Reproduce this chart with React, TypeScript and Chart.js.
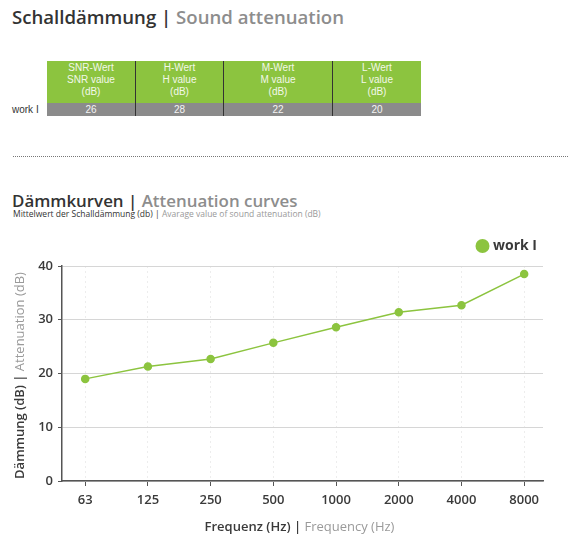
import React, { useEffect, useRef } from "react";
import { Chart, registerables } from "chart.js";

Chart.register(...registerables);

const frequencies = ["63", "125", "250", "500", "1000", "2000", "4000", "8000"];
const attenuation = [19.0, 21.3, 22.7, 25.7, 28.6, 31.4, 32.7, 38.5];
const seriesLabel = "work I";
const yTicks = [0, 10, 20, 30, 40];

const tableHeaders = [
  ["SNR-Wert", "SNR value", "(dB)"],
  ["H-Wert", "H value", "(dB)"],
  ["M-Wert", "M value", "(dB)"],
  ["L-Wert", "L value", "(dB)"],
];
const tableValues = [26, 28, 22, 20];
const tableColWidths = [88, 88, 109, 89];

const GREEN = "#8cc43f";
const DARK = "#3a3a3a";
const LIGHT = "#9a9a9a";
const FONT = "'Open Sans', 'DejaVu Sans', sans-serif";

const overlayPlugin = {
  id: "overlay",
  afterDraw(chart: any) {
    const { ctx, chartArea } = chart;
    ctx.save();
    // legend
    const ds = chart.data.datasets[0];
    ctx.fillStyle = ds.borderColor;
    ctx.beginPath();
    ctx.arc(482.5, 14, 7, 0, Math.PI * 2);
    ctx.fill();
    ctx.fillStyle = DARK;
    ctx.font = `bold 14px ${FONT}`;
    ctx.textBaseline = "middle";
    ctx.textAlign = "left";
    ctx.fillText(ds.label, 493, 14);

    // x title
    const p1 = "Frequenz (Hz) | ";
    const p2 = "Frequency (Hz)";
    ctx.font = `600 13px ${FONT}`;
    const w1 = ctx.measureText(p1).width;
    ctx.font = `13px ${FONT}`;
    const w2 = ctx.measureText(p2).width;
    const cx = (chartArea.left + chartArea.right) / 2 - 3;
    const x0 = cx - (w1 + w2) / 2;
    const ty = 295;
    ctx.font = `600 13px ${FONT}`;
    ctx.fillStyle = DARK;
    ctx.fillText(p1, x0, ty);
    ctx.font = `13px ${FONT}`;
    ctx.fillStyle = LIGHT;
    ctx.fillText(p2, x0 + w1, ty);

    // y title
    const q1 = "Dämmung (dB) | ";
    const q2 = "Attenuation (dB)";
    ctx.font = `600 13px ${FONT}`;
    const v1 = ctx.measureText(q1).width;
    ctx.font = `13px ${FONT}`;
    const v2 = ctx.measureText(q2).width;
    const cy = (chartArea.top + chartArea.bottom) / 2 + 2;
    ctx.translate(20, cy);
    ctx.rotate(-Math.PI / 2);
    const s0 = -(v1 + v2) / 2;
    ctx.font = `600 13px ${FONT}`;
    ctx.fillStyle = DARK;
    ctx.fillText(q1, s0, 0);
    ctx.font = `13px ${FONT}`;
    ctx.fillStyle = LIGHT;
    ctx.fillText(q2, s0 + v1, 0);
    ctx.restore();
  },
};

function AttenuationChart() {
  const ref = useRef<HTMLCanvasElement>(null);
  useEffect(() => {
    if (!ref.current) return;
    const chart = new Chart(ref.current, {
      type: "line",
      data: {
        datasets: [
          {
            label: seriesLabel,
            data: attenuation.map((v, i) => ({ x: i, y: v })),
            borderColor: GREEN,
            backgroundColor: GREEN,
            pointBackgroundColor: GREEN,
            pointBorderColor: GREEN,
            pointRadius: 3.5,
            borderWidth: 1.5,
            tension: 0,
          },
        ],
      },
      options: {
        animation: false,
        responsive: false,
        devicePixelRatio: 1,
        layout: { padding: { top: 34, right: 25, left: 0, bottom: 0 } },
        plugins: { legend: { display: false }, tooltip: { enabled: false } },
        scales: {
          x: {
            type: "linear",
            min: -0.37,
            max: 7.3,
            afterFit: (s: any) => {
              s.height = 72;
            },
            afterBuildTicks: (s: any) => {
              s.ticks = frequencies.map((_, i) => ({ value: i }));
            },
            ticks: {
              callback: (v: any) => frequencies[v as number] ?? "",
              color: DARK,
              font: { family: FONT, size: 13, weight: "600" },
              padding: 6,
              maxRotation: 0,
            },
            grid: {
              color: "#ededed",
              tickColor: "#555",
              tickLength: 5,
              drawOnChartArea: true,
            },
            border: { color: "#555", width: 1.5, dash: [2, 3] },
          },
          y: {
            min: 0,
            max: 40,
            afterFit: (s: any) => {
              s.width = 62;
            },
            afterBuildTicks: (s: any) => {
              s.ticks = yTicks.map((v) => ({ value: v }));
            },
            ticks: {
              color: DARK,
              font: { family: FONT, size: 13, weight: "600" },
              padding: 5,
            },
            grid: { color: "#d6d6d6", tickColor: "#555", tickLength: 4 },
            border: { color: "#555", width: 1.5 },
          },
        },
      },
      plugins: [overlayPlugin],
    });
    return () => chart.destroy();
  }, []);
  return (
    <canvas
      ref={ref}
      width={568}
      height={321}
      style={{ position: "absolute", left: 0, top: 232, width: 568, height: 321 }}
    />
  );
}

export default function App() {
  let left = 47;
  return (
    <div
      style={{
        position: "absolute",
        left: 0,
        top: 0,
        width: 568,
        height: 553,
        background: "#fff",
        fontFamily: FONT,
        overflow: "hidden",
      }}
    >
      <div
        style={{
          position: "absolute",
          left: 12,
          top: 4,
          fontSize: 18.6,
          fontWeight: 600,
          whiteSpace: "nowrap",
          lineHeight: "25px",
        }}
      >
        <span style={{ color: "#333" }}>Schalldämmung | </span>
        <span style={{ color: "#8d8d8d" }}>Sound attenuation</span>
      </div>

      <div
        style={{
          position: "absolute",
          left: 12,
          top: 103,
          height: 13,
          lineHeight: "13px",
          fontSize: 10,
          color: "#333",
          fontFamily: "'Liberation Sans', Arial, sans-serif",
        }}
      >
        work I
      </div>
      {tableHeaders.map((h, i) => {
        const w = tableColWidths[i];
        const x = left;
        left += w;
        return (
          <React.Fragment key={i}>
            <div
              style={{
                position: "absolute",
                left: x,
                top: 61,
                width: w,
                height: 42,
                background: GREEN,
                color: "#f3f8ea",
                fontSize: 10,
                lineHeight: "12px",
                textAlign: "center",
                fontFamily: "'Liberation Sans', Arial, sans-serif",
                paddingTop: 1,
                boxSizing: "border-box",
                borderLeft: i > 0 ? "1px solid #333" : "none",
              }}
            >
              {h.map((l, j) => (
                <div key={j}>{l}</div>
              ))}
            </div>
            <div
              style={{
                position: "absolute",
                left: x,
                top: 103,
                width: w,
                height: 13,
                background: "#8b8b8b",
                color: "#f4f4f4",
                fontSize: 10,
                lineHeight: "13px",
                textAlign: "center",
                fontFamily: "'Liberation Sans', Arial, sans-serif",
                boxSizing: "border-box",
                borderLeft: i > 0 ? "1px solid #333" : "none",
              }}
            >
              {tableValues[i]}
            </div>
          </React.Fragment>
        );
      })}

      <div
        style={{
          position: "absolute",
          left: 13,
          top: 156,
          width: 555,
          borderTop: "1px dotted #777",
        }}
      />

      <div
        style={{
          position: "absolute",
          left: 12,
          top: 189,
          fontSize: 16.9,
          fontWeight: 600,
          whiteSpace: "nowrap",
          lineHeight: "23px",
        }}
      >
        <span style={{ color: "#333" }}>Dämmkurven | </span>
        <span style={{ color: "#8d8d8d" }}>Attenuation curves</span>
      </div>
      <div
        style={{
          position: "absolute",
          left: 13,
          top: 209,
          fontSize: 8.5,
          whiteSpace: "nowrap",
          lineHeight: "10px",
        }}
      >
        <span style={{ color: "#333" }}>Mittelwert der Schalldämmung (db) | </span>
        <span style={{ color: "#999" }}>Avarage value of sound attenuation (dB)</span>
      </div>

      <AttenuationChart />
    </div>
  );
}
